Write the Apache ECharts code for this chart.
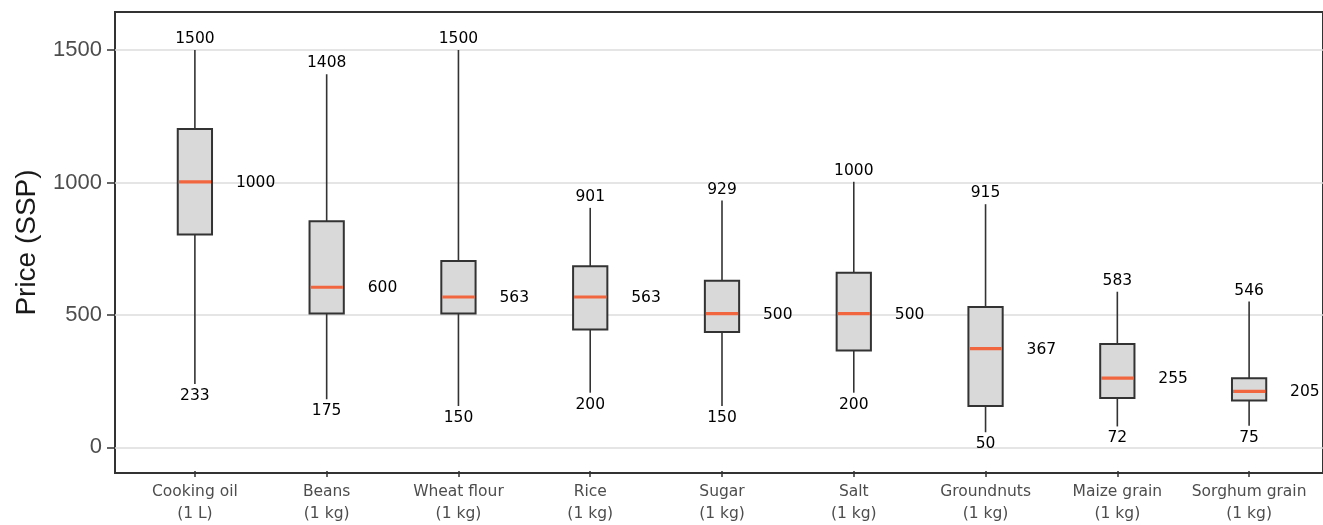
<!DOCTYPE html>
<html>
<head>
<meta charset="utf-8">
<script src="https://cdn.jsdelivr.net/npm/echarts@6/dist/echarts.min.js"></script>
<style>
html,body{margin:0;padding:0;background:#fff;}
#chart{width:1323px;height:525px;}
</style>
</head>
<body>
<div id="chart"></div>
<script>
const categories = ['Cooking oil\n(1 L)', 'Beans\n(1 kg)', 'Wheat flour\n(1 kg)', 'Rice\n(1 kg)', 'Sugar\n(1 kg)', 'Salt\n(1 kg)', 'Groundnuts\n(1 kg)', 'Maize grain\n(1 kg)', 'Sorghum grain\n(1 kg)'];
const whiskerLow  = [233, 175, 150, 200, 150, 200, 50, 72, 75];
const q1          = [800, 500, 500, 440, 430, 360, 150, 180, 170];
const median      = [1000, 600, 563, 563, 500, 500, 367, 255, 205];
const q3          = [1200, 850, 700, 680, 625, 655, 525, 385, 255];
const whiskerHigh = [1500, 1408, 1500, 901, 929, 1000, 915, 583, 546];
const yTicks = [0, 500, 1000, 1500];

const Y_MIN = -97, Y_MAX = 1644;

const boxData = categories.map((c, i) => [i, whiskerLow[i], q1[i], median[i], q3[i], whiskerHigh[i]]);

const chart = echarts.init(document.getElementById('chart'), null, {renderer: 'canvas'});

const labelFont = {fontFamily: 'DejaVu Sans', fontSize: 15.5, fill: '#000'};

chart.setOption({
  animation: false,
  backgroundColor: '#fff',
  grid: [
    {left: 115, right: -6, top: 12, bottom: 52, show: true, borderColor: '#333', borderWidth: 2, backgroundColor: 'transparent'},
    {left: 129, right: 8, top: 12, bottom: 52}
  ],
  xAxis: [
    {gridIndex: 0, type: 'value', min: 0, max: 1, show: false},
    {gridIndex: 1, type: 'category', data: categories, position: 'bottom',
     axisLine: {show: false, onZero: false},
     axisTick: {show: true, alignWithLabel: true, length: 6, lineStyle: {color: '#333', width: 1.5}},
     axisLabel: {margin: 10, fontFamily: 'DejaVu Sans', fontSize: 15.5, color: '#4d4d4d', lineHeight: 22, interval: 0}
    }
  ],
  yAxis: [
    {gridIndex: 0, type: 'value', min: Y_MIN, max: Y_MAX,
     name: 'Price (SSP)', nameLocation: 'middle', nameGap: 74,
     nameTextStyle: {fontFamily: 'Liberation Sans', fontSize: 28, color: '#1a1a1a'},
     axisLine: {show: false},
     axisTick: {show: true, length: 8, customValues: yTicks, lineStyle: {color: '#333', width: 1.5}},
     axisLabel: {customValues: yTicks, margin: 13, fontFamily: 'Liberation Sans', fontSize: 22, color: '#4d4d4d',
                 formatter: function (v) { return String(v); }},
     splitLine: {show: true, lineStyle: {color: '#dcdcdc', width: 1.5}}
    },
    {gridIndex: 1, type: 'value', min: Y_MIN, max: Y_MAX, show: false, splitLine: {show: false}}
  ],
  series: [{
    type: 'custom',
    xAxisIndex: 1,
    yAxisIndex: 1,
    data: boxData,
    encode: {x: 0, y: [1, 2, 3, 4, 5]},
    renderItem: function (params, api) {
      const idx = api.value(0);
      const lo = api.value(1), a = api.value(2), m = api.value(3), b = api.value(4), hi = api.value(5);
      const pLo = api.coord([idx, lo]);
      const pHi = api.coord([idx, hi]);
      const pA = api.coord([idx, a]);
      const pB = api.coord([idx, b]);
      const pM = api.coord([idx, m]);
      const band = api.size([1, 0])[0];
      const bw = band * 0.26;
      const cx = pLo[0];
      return {
        type: 'group',
        children: [
          {type: 'line', shape: {x1: cx, y1: pHi[1], x2: cx, y2: pLo[1]}, style: {stroke: '#333', lineWidth: 1.6}},
          {type: 'rect', shape: {x: cx - bw / 2, y: pB[1], width: bw, height: pA[1] - pB[1]}, style: {fill: '#d9d9d9', stroke: '#333', lineWidth: 2}},
          {type: 'line', shape: {x1: cx - bw / 2 + 1, y1: pM[1], x2: cx + bw / 2 - 1, y2: pM[1]}, style: {stroke: '#f2663f', lineWidth: 3.2}},
          {type: 'text', x: cx, y: pHi[1] - 11, style: Object.assign({text: String(hi), align: 'center', verticalAlign: 'middle'}, labelFont)},
          {type: 'text', x: cx, y: pLo[1] + 12, style: Object.assign({text: String(lo), align: 'center', verticalAlign: 'middle'}, labelFont)},
          {type: 'text', x: cx + 41, y: pM[1] + 1, style: Object.assign({text: String(m), align: 'left', verticalAlign: 'middle'}, labelFont)}
        ]
      };
    }
  }]
});
</script>
</body>
</html>
